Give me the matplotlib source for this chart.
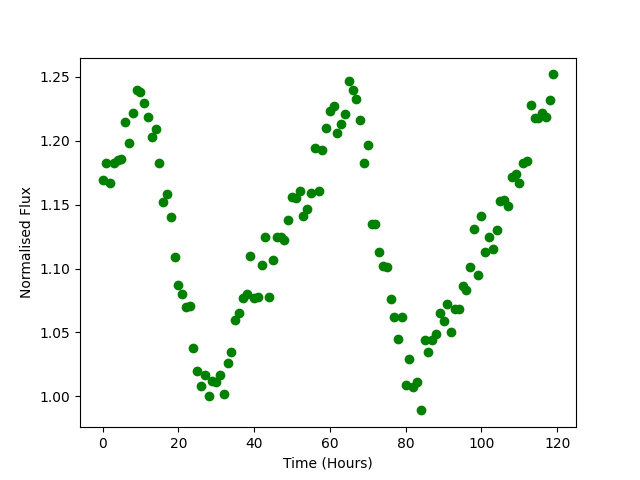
import numpy as np
import matplotlib
matplotlib.use("Agg")
from matplotlib import pyplot as plt

# Curva de luz: fluxo normalizado por hora
Horas = np.arange(120)
Fluxo = [
    1.169, 1.183, 1.167, 1.183, 1.185, 1.186, 1.215, 1.198, 1.222, 1.240,
    1.238, 1.230, 1.219, 1.203, 1.209, 1.183, 1.152, 1.158, 1.140, 1.109,
    1.087, 1.080, 1.070, 1.071, 1.038, 1.020, 1.008, 1.017, 1.000, 1.012,
    1.011, 1.017, 1.002, 1.026, 1.035, 1.060, 1.065, 1.077, 1.080, 1.110,
    1.077, 1.078, 1.103, 1.125, 1.078, 1.107, 1.125, 1.125, 1.122, 1.138,
    1.156, 1.155, 1.161, 1.141, 1.147, 1.159, 1.194, 1.161, 1.193, 1.210,
    1.223, 1.227, 1.206, 1.213, 1.221, 1.247, 1.240, 1.233, 1.216, 1.183,
    1.197, 1.135, 1.135, 1.113, 1.102, 1.101, 1.076, 1.062, 1.045, 1.062,
    1.009, 1.029, 1.007, 1.011, 0.989, 1.044, 1.035, 1.044, 1.049, 1.065,
    1.059, 1.072, 1.050, 1.068, 1.068, 1.086, 1.083, 1.101, 1.131, 1.095,
    1.141, 1.113, 1.125, 1.115, 1.130, 1.153, 1.154, 1.149, 1.172, 1.174,
    1.167, 1.183, 1.184, 1.228, 1.218, 1.218, 1.222, 1.219, 1.232, 1.252,
]

Grafico = plt.figure(figsize=(6.4, 4.8), dpi=100)
plt.plot(Horas, Fluxo, "go")
plt.xlabel("Time (Hours)")
plt.ylabel("Normalised Flux")
plt.savefig("out.png")
